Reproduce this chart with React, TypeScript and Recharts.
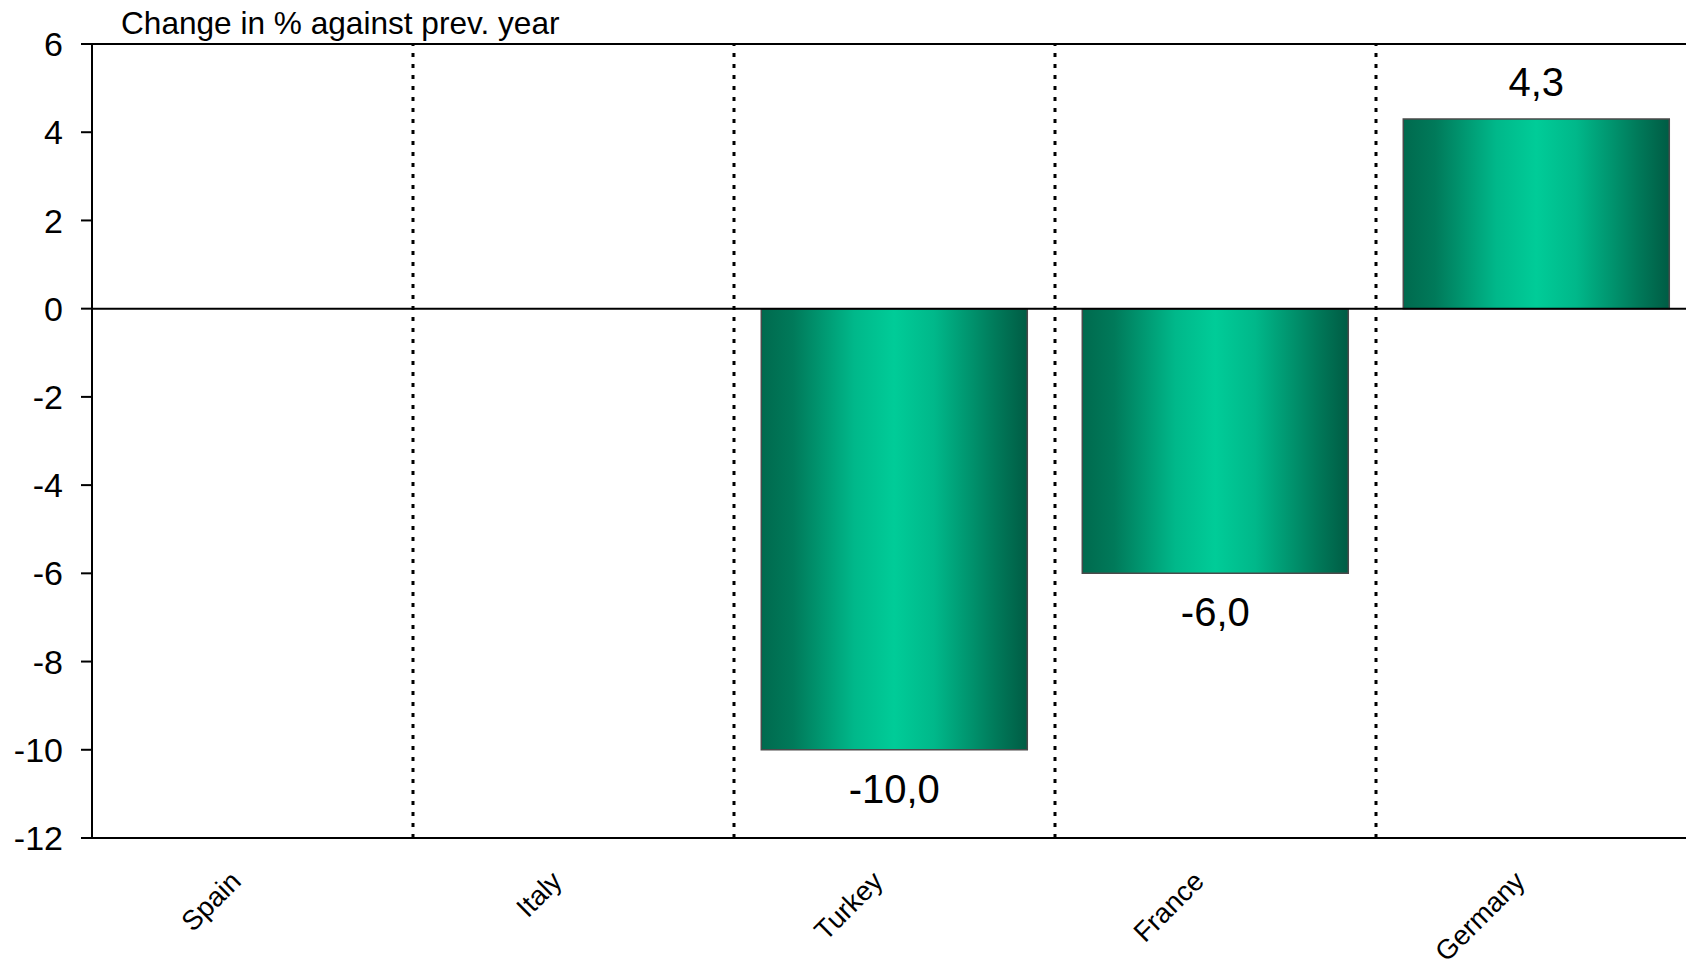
import React from "react";
import { BarChart, Bar, XAxis, YAxis, ReferenceLine, LabelList } from "recharts";

const categories = ["Spain", "Italy", "Turkey", "France", "Germany"];
const values: (number | null)[] = [null, null, -10.0, -6.0, 4.3];
const yTicks = [-12, -10, -8, -6, -4, -2, 0, 2, 4, 6];
const titleText = "Change in % against prev. year";

const data = categories.map((c, i) => ({ name: c, value: values[i] }));
const dividerCats = categories.slice(1);

const FONT = "'Liberation Sans', Arial, Helvetica, sans-serif";

const XTick = (props: any) => {
  const { x, y, payload } = props;
  const px = x - 10;
  const py = y + 37;
  return (
    <text
      x={px}
      y={py}
      transform={`rotate(-45, ${px}, ${py})`}
      textAnchor="end"
      fontFamily={FONT}
      fontSize={27.5}
      fill="#000"
    >
      {payload.value}
    </text>
  );
};

const YTick = (props: any) => {
  const { x, y, payload } = props;
  return (
    <text x={x} y={y} dy="0.355em" textAnchor="end" fontFamily={FONT} fontSize={34} fill="#000">
      {payload.value}
    </text>
  );
};

const ValueLabel = (props: any) => {
  const { x, y, width, height, value } = props;
  if (value === null || value === undefined) return null;
  const top = Math.min(y, y + height);
  const bottom = Math.max(y, y + height);
  const cx = x + width / 2;
  const ty = value < 0 ? bottom + 53 : top - 23;
  const txt = Number(value).toFixed(1).replace(".", ",");
  return (
    <text x={cx} y={ty} textAnchor="middle" fontFamily={FONT} fontSize={40} fill="#000">
      {txt}
    </text>
  );
};

export default function App() {
  return (
    <div
      style={{
        position: "fixed",
        left: 0,
        top: 0,
        width: 1686,
        height: 963,
        overflow: "hidden",
        background: "#fff",
      }}
    >
      <div
        style={{
          position: "absolute",
          left: 121,
          top: 7,
          fontFamily: FONT,
          fontSize: 31.6,
          lineHeight: "32px",
          color: "#000",
          whiteSpace: "nowrap",
        }}
      >
        {titleText}
      </div>
      <BarChart
        width={1700}
        height={963}
        data={data}
        margin={{ top: 44, right: 3, left: 0, bottom: 0 }}
        barCategoryGap="8.5%"
      >
        <defs>
          <linearGradient id="barGrad" x1="0" y1="0" x2="1" y2="0">
            <stop offset="0%" stopColor="#006a4e" />
            <stop offset="12%" stopColor="#007a5a" />
            <stop offset="35%" stopColor="#00b88a" />
            <stop offset="50%" stopColor="#00cc98" />
            <stop offset="65%" stopColor="#00b88a" />
            <stop offset="88%" stopColor="#007a5a" />
            <stop offset="100%" stopColor="#005c44" />
          </linearGradient>
        </defs>
        <XAxis
          dataKey="name"
          height={125}
          interval={0}
          axisLine={{ stroke: "#000", strokeWidth: 2 }}
          tickLine={false}
          tick={<XTick />}
        />
        <YAxis
          width={92}
          domain={[-12, 6]}
          ticks={yTicks}
          interval={0}
          allowDataOverflow
          axisLine={{ stroke: "#000", strokeWidth: 2 }}
          tickLine={{ stroke: "#000", strokeWidth: 2 }}
          tickSize={11}
          tickMargin={18}
          tick={<YTick />}
        />
        {dividerCats.map((c) => (
          <ReferenceLine
            key={c}
            x={c}
            position="start"
            stroke="#000"
            strokeWidth={3}
            strokeDasharray="4 7"
          />
        ))}
        <ReferenceLine y={6} stroke="#000" strokeWidth={2} />
        <Bar
          dataKey="value"
          fill="url(#barGrad)"
          stroke="#4a4a4a"
          strokeWidth={1.5}
          isAnimationActive={false}
        >
          <LabelList dataKey="value" content={<ValueLabel />} />
        </Bar>
        <ReferenceLine y={0} stroke="#000" strokeWidth={2} />
      </BarChart>
    </div>
  );
}
